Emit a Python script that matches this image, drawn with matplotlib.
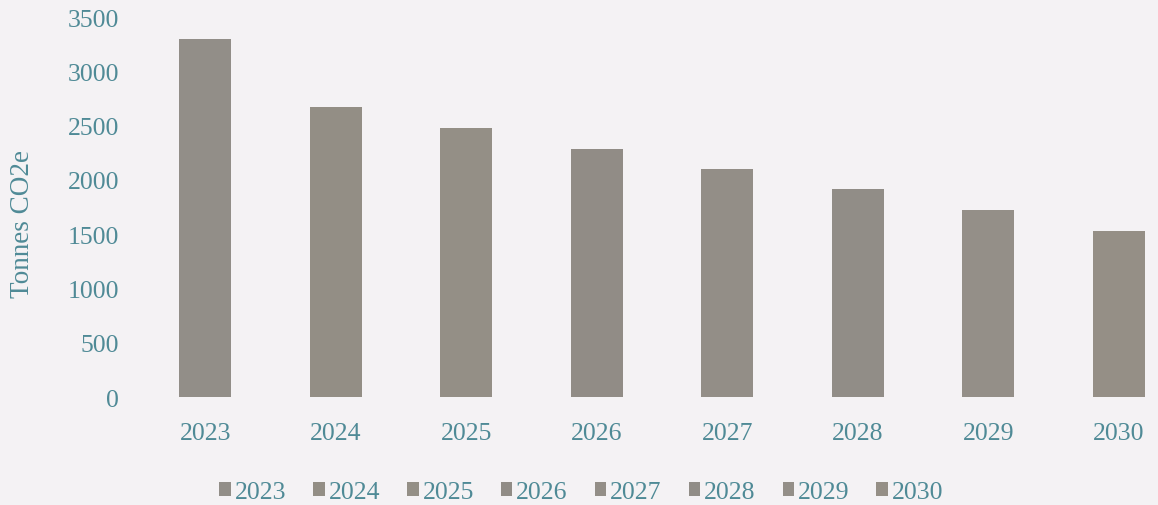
import matplotlib.pyplot as plt

# data
years = ['2023', '2024', '2025', '2026', '2027', '2028', '2029', '2030']
emissions = [3300, 2670, 2480, 2285, 2100, 1915, 1725, 1530]
bar_colors = ['#928e88', '#938e85', '#948f86', '#918c86', '#938e87', '#918d87', '#948f88', '#958f86']

text_color = '#4f8a96'
bg = '#f4f2f4'

plt.rcParams['font.family'] = ['Liberation Serif', 'DejaVu Serif']

fig = plt.figure(figsize=(11.58, 5.06), dpi=100, facecolor=bg)
ax = fig.add_axes([0.121, 0.2134, 0.879, 0.751], facecolor=bg)

for i, (yr, val) in enumerate(zip(years, emissions)):
    ax.bar(i, val, width=0.4, color=bar_colors[i], label=yr)

ax.set_xlim(-0.5, 7.3)
ax.set_ylim(0, 3500)
ax.set_yticks(range(0, 3501, 500))
ax.set_xticks(range(len(years)))
ax.set_xticklabels(years)

ax.tick_params(axis='y', length=0, pad=15, labelsize=18.5, labelcolor=text_color)
ax.tick_params(axis='x', length=0, pad=18, labelsize=18.5, labelcolor=text_color)
for s in ax.spines.values():
    s.set_visible(False)

fig.text(0.019, 0.557, 'Tonnes CO2e', rotation=90, ha='center', va='center',
         fontsize=19.5, color=text_color)

leg = fig.legend(loc='center', bbox_to_anchor=(0.502, 0.026), ncol=8, frameon=False,
                 fontsize=18.5, handlelength=0.45, handleheight=0.45, handletextpad=0.15,
                 columnspacing=1.05)
for t in leg.get_texts():
    t.set_color(text_color)

fig.savefig('out.png', dpi=100, facecolor=bg)
